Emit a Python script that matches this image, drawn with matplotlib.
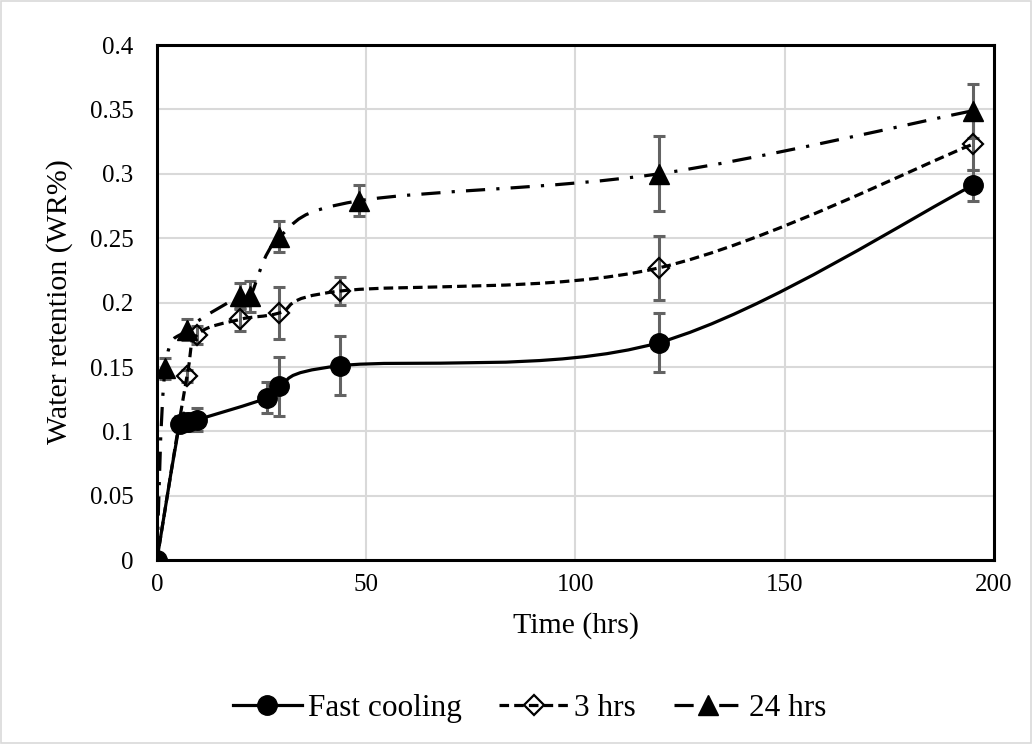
import numpy as np
import matplotlib
matplotlib.use("Agg")
import matplotlib.pyplot as plt
from matplotlib.path import Path
from matplotlib.patches import PathPatch, Rectangle
from matplotlib.lines import Line2D

plt.rcParams["font.family"] = ["Liberation Serif", "DejaVu Serif"]

# data
fast_x = [0, 5.5, 7.5, 9.6, 26.3, 29.3, 43.8, 120, 195]
fast_y = [0, 0.106, 0.107, 0.109, 0.126, 0.135, 0.151, 0.169, 0.291]
fast_err = [0, 0.006, 0.007, 0.009, 0.012, 0.023, 0.023, 0.023, 0.012]

h3_x = [0, 7.2, 9.6, 19.9, 29.3, 43.8, 120, 195]
h3_y = [0, 0.143, 0.175, 0.187, 0.192, 0.209, 0.227, 0.323]
h3_err = [0, 0.005, 0.007, 0.009, 0.02, 0.011, 0.025, 0.02]

h24_x = [0, 2.0, 7.2, 19.9, 22.3, 29.3, 48.2, 120, 195]
h24_y = [0, 0.149, 0.179, 0.205, 0.205, 0.251, 0.279, 0.300, 0.349]
h24_err = [0, 0.008, 0.008, 0.01, 0.012, 0.012, 0.012, 0.029, 0.021]

labels = ["Fast cooling", "3 hrs", "24 hrs"]

XMAX, YMAX = 200, 0.4


def smooth_path(xs, ys, sx, sy):
    # Excel-like smoothed line (Catmull-Rom as cubic Bezier), done in screen-like units
    p = np.column_stack([np.asarray(xs) * sx, np.asarray(ys) * sy])
    n = len(p)
    verts = [p[0]]
    codes = [Path.MOVETO]
    for i in range(n - 1):
        p0 = p[i - 1] if i > 0 else p[i]
        p3 = p[i + 2] if i + 2 < n else p[i + 1]
        c1 = p[i] + (p[i + 1] - p0) / 6
        c2 = p[i + 1] - (p3 - p[i]) / 6
        verts += [c1, c2, p[i + 1]]
        codes += [Path.CURVE4] * 3
    verts = np.array(verts)
    verts[:, 0] /= sx
    verts[:, 1] /= sy
    return Path(verts, codes)


fig = plt.figure(figsize=(10.32, 7.44), dpi=100)
ax = fig.add_axes([0.152, 0.247, 0.811, 0.6925])

sx = 837 / XMAX
sy = 515 / YMAX

series = [
    (fast_x, fast_y, fast_err, "-", dict(marker="o", ms=14, mfc="black", mec="black")),
    (h3_x, h3_y, h3_err, (0, (3, 1.6)), dict(marker="D", ms=10.5, mfc="none", mec="black", mew=1.6)),
    (h24_x, h24_y, h24_err, (0, (6, 3.5, 1, 3.5)), dict(marker="^", ms=14, mfc="black", mec="black")),
]

handles = []
for xs, ys, errs, ls, mk in series:
    ax.errorbar(xs, ys, yerr=errs, fmt="none", ecolor="#636363",
                elinewidth=2.2, capsize=4.5, capthick=2.2, zorder=3)
    patch = PathPatch(smooth_path(xs, ys, sx, sy), fill=False, edgecolor="black",
                      lw=2.3, linestyle=ls, zorder=4)
    ax.add_patch(patch)
    ax.plot(xs, ys, linestyle="none", zorder=5, **mk)
    handles.append(Line2D([], [], color="black", lw=2.3, linestyle=ls, **mk))

ax.set_xlim(0, XMAX)
ax.set_ylim(0, YMAX)
ax.set_xticks(np.arange(0, 201, 50))
ax.set_yticks(np.arange(0, 0.401, 0.05))
ax.set_yticklabels(["0", "0.05", "0.1", "0.15", "0.2", "0.25", "0.3", "0.35", "0.4"])
ax.tick_params(length=0, labelsize=18)
ax.tick_params(axis="y", pad=17)
ax.tick_params(axis="x", pad=10)
ax.grid(True, color="#d9d9d9", lw=1.5)
ax.set_axisbelow(True)
for s in ax.spines.values():
    s.set_linewidth(2.2)
    s.set_color("black")

fig.text(0.5577, 1 - 626 / 744, "Time (hrs)", fontsize=21.5, ha="center", va="center")
fig.text(0.058, 1 - 302 / 744, "Water retention (WR%)", fontsize=21.5,
         ha="center", va="center", rotation=90)

fig.legend(handles, labels, loc="center", bbox_to_anchor=(0.513, 0.048), ncol=3,
           frameon=False, fontsize=22.5, handlelength=2.2, numpoints=1,
           columnspacing=1.2, handletextpad=0.2)

fig.patches.append(Rectangle((0.001, 0.001), 0.998, 0.998, transform=fig.transFigure,
                             fill=False, edgecolor="#d9d9d9", lw=1.2))

fig.savefig("out.png", dpi=100)
